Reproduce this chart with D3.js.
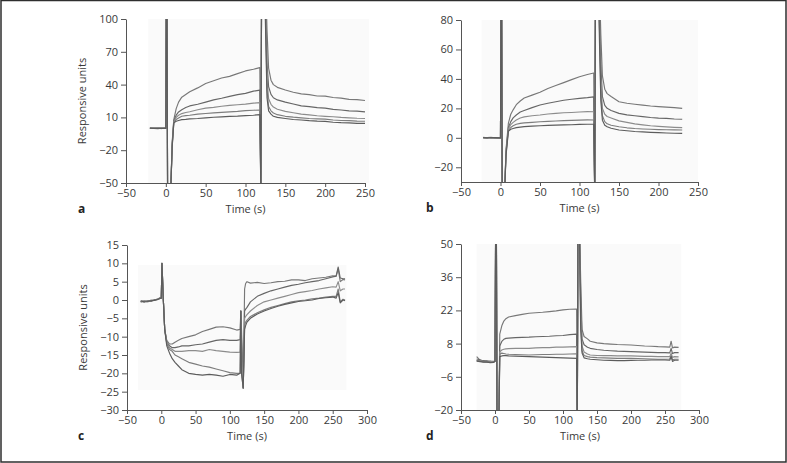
<!DOCTYPE html>
<html>
<head>
<meta charset="utf-8">
<script src="https://cdn.jsdelivr.net/npm/d3@7"></script>
<style>
  html, body { margin: 0; padding: 0; background: #fff; }
  svg { display: block; font-family: "Open Sans", "DejaVu Sans", sans-serif; }
</style>
</head>
<body>
<svg id="chart" width="787" height="463"></svg>
<script>
// ---------------- DATA ----------------
// Panel a
const aTime = [-20,-15,-10,-5,-1, 0,0.6,1.4,2.2,6,8, 10,13,16,20,25,30, 40,50,60,70,80,90,100,110,118, 119.3,120.2,124, 125.5,127,129,132,135,140, 150,160,170,180,190,200,210,220,230,240,250];
const aS1 = [0.3,-0.2,0.4,0,0.2, 0,130,130,-60,-60,-12, 8,18,24,28.5,31,33.5, 37,41,43.5,46,47.5,50,52.5,54,55.5, -60,130,130, 130,90,55,44,40,37.5, 35,33,31.5,30.8,29.6,29.5,28.2,27.6,26.5,26.2,25.5];
const aS2 = [0.1,0.3,-0.1,0.2,0, 0,130,130,-60,-60,-14, 7,12,15,17,19,20.5, 22,24,26,27.5,29.2,30.8,32,34,35, -60,130,130, 120,60,38,31,28,26, 24,22.2,20.5,19.8,19,18.5,17.4,16.8,16,15.7,15];
const aS3 = [0,0.2,0.1,-0.2,0.1, 0,130,130,-60,-60,-15, 6,10,12,13.5,14.5,15.2, 17,18.5,19.2,20.2,21,21.6,22.1,23,23.5, -60,130,130, 100,45,27,22,19.5,17.5, 15.5,14.2,13,12.3,11.5,11,10.6,10,9.6,9.2,9];
const aS4 = [-0.1,0.1,0.2,0,0.3, 0,130,130,-60,-60,-16, 5,8,9.5,11,11.6,12, 13,13.6,14.2,14.6,15.1,15.5,16.2,16.5,16.8, -60,130,130, 90,35,20,16,14,12.5, 11,10.2,9.6,9,8.7,8.4,7.6,7.2,7,6.6,6.5];
const aS5 = [0.2,0,-0.2,0.1,0, 0,130,130,-60,-60,-17, 5,6.5,7.2,8,8.2,8.6, 9,9.6,10.1,10.5,11,11.2,11.6,12,12.5, -60,130,130, 80,28,16,13,11,10, 9,8.1,7.6,7,6.6,6.4,5.6,5.2,5,4.6,4.5];
const aXTicks = [-50,0,50,100,150,200,250];
const aYTicks = [-50,-20,10,40,70,100];

// Panel b
const bTime = [-22,-17,-12,-7,-2, 0,0.6,1.4,2.2,5,7, 10,13,16,20,25,30, 40,50,60,70,80,90,100,110,118, 119.3,120.2,124, 125.5,127,129,132,135,140, 150,160,170,180,190,200,210,220,230];
const bS1 = [0.3,0,0.2,-0.1,0.1, 0,100,100,-40,-40,-8, 10,16,19,22.5,25,27, 29,31,33.5,35.5,37.5,39.5,41.5,43,44, -40,100,100, 100,70,42,33,30,28, 24.5,23.5,22.8,22.2,21.6,21.2,20.8,20.5,20];
const bS2 = [0.1,0.2,0,0.1,0, 0,100,100,-40,-40,-9, 7,11,13.5,15.5,17.5,18.5, 20.5,22.3,23.5,24.5,25.5,26.2,26.8,27.3,27.8, -40,100,100, 90,50,28,22,20,18.5, 16.6,15.6,15,14.4,13.8,13.4,13.2,12.8,12.6];
const bS3 = [0.2,0,0.1,0.2,-0.1, 0,100,100,-40,-40,-10, 6,9,10.5,12.1,13.5,14.2, 15,15.5,16.2,16.6,17,17.2,17.5,17.8,17.7, -40,100,100, 80,38,20,16,14.5,13.5, 11.5,10.5,9.5,8.8,8.2,7.8,7.4,7.1,6.9];
const bS4 = [0,0.1,0.3,0,0.1, 0,100,100,-40,-40,-11, 5,7,8.2,9.2,9.8,10.1, 10.5,10.9,11.2,11.4,11.7,11.8,12,12.2,12.1, -40,100,100, 70,30,15,11,9.5,8.5, 7.5,6.8,6.3,6,5.8,5.6,5.5,5.4,5.3];
const bS5 = [0.1,0,0.2,0.1,0, 0,100,100,-40,-40,-12, 4.5,5.8,6.3,6.9,7.3,7.6, 7.9,8.2,8.4,8.6,8.8,8.9,9.1,9.2,9.2, -40,100,100, 60,25,12,8.5,7.5,6.5, 5.3,4.8,4.3,4,3.7,3.5,3.3,3.1,3];
const bXTicks = [-50,0,50,100,150,200,250];
const bYTicks = [-20,0,20,40,60,80];

// Panel c
const cTime = [-30,-25,-20,-15,-10,-5,-2, 0,1,3,5, 8,12,16,20,25,30, 40,50,60,70,80,90,100,110, 115,116,117,119.5, 121.5,123,125,130, 140,150,160,170,180,190,200,210,220,230,240,250, 255,258,261,265,268];
const cS1 = [-0.5,-0.2,-0.4,-0.1,0,0.3,0.6, 0.5,10,0,-8, -11,-12,-12,-11.5,-11,-10.5, -10,-9.5,-8.6,-8,-7.4,-7.3,-7.6,-8.2, -8,-3,-8,-24, 3,4.5,5,4.6, 4.8,4.5,4.7,5,5.1,5.5,5.5,5.3,5.8,6,6.2,6.6, 6.5,8.5,5,5.6,5.5];
const cS2 = [-0.3,-0.5,-0.2,-0.4,0.1,0.2,0.5, 0.5,10,0,-8, -11.5,-12.5,-13,-13,-12.8,-12.5, -12.5,-12.2,-12,-11.5,-11,-10.8,-11,-11, -10.8,-3,-10.8,-24, -3,-2.5,-2,-0.5, 1,1.8,2.5,3,3.5,4,4.3,4.7,5,5.3,5.8,6.3, 6.5,9,6,5.8,5.8];
const cS3 = [-0.4,-0.3,-0.5,-0.2,-0.1,0.2,0.4, 0.5,10,0,-8, -11.5,-13,-13.5,-14,-14,-14, -13.8,-13.8,-14,-13.5,-13.8,-14,-14.2,-14.3, -14.2,-3,-14.2,-24, -5,-4.5,-4,-3, -1.5,-0.5,0,0.5,1,1.5,2,2.3,2.6,3,3.3,3.6, 3.5,5,2.5,3,3];
const cS4 = [-0.5,-0.4,-0.3,-0.1,0,0.1,0.5, 0.5,10,0,-8, -12,-13.5,-14,-15,-15.5,-16, -17,-17.5,-18,-18.3,-18.8,-19.3,-19.8,-20, -20,-3,-20,-24, -7,-6,-5.5,-4.5, -3.5,-2.7,-2,-1.5,-1,-0.5,-0.2,0,0.3,0.5,0.8,1, 1,3,-0.5,0.2,0];
const cS5 = [-0.2,-0.5,-0.4,-0.2,-0.1,0.2,0.4, 0.5,10,0,-8, -12.5,-14.5,-16,-17,-18,-19, -20,-20.3,-20.5,-20.3,-20.5,-20.8,-20.3,-20.5, -20,-3,-20,-24, -8,-7,-6,-5, -3.8,-3,-2.3,-1.7,-1.2,-0.8,-0.4,-0.2,0,0.4,0.6,0.8, 0.5,2,-0.8,0,-0.2];
const cXTicks = [-50,0,50,100,150,200,250,300];
const cYTicks = [-30,-25,-20,-15,-10,-5,0,5,10,15];

// Panel d
const dTime = [-27,-22,-17,-12,-7,-2, 0,1,2,3,5.5,7, 10,13,16,20,30, 40,50,60,70,80,90,100,110,120, 121,122,124,126,128,131,136, 140,150,160,170,180,190,200,210,220,230,240,250, 257,259,261,264,270];
const dS1 = [2.5,1,0.8,0.5,0.6,0.4, 0.5,60,60,-30,-30,12, 15.5,17.5,18.5,19.2,19.8, 20.3,20.8,21,21.2,21.5,21.8,22.2,22.5,22.6, -30,60,60,35,14,11,10, 9,8.3,8,7.8,7.6,7.5,7.4,7.2,7,6.9,6.7,6.6, 6.5,9,6.2,6.5,6.4];
const dS2 = [1.5,1.2,0.6,0.7,0.3,0.5, 0.5,60,60,-30,-30,7, 8.9,9.8,10.2,10.3,10.5, 10.6,10.7,10.9,11,11.1,11.3,11.4,11.8,12, -30,60,60,28,10,7.5,6.5, 6,5.5,5.2,5,4.8,4.7,4.6,4.5,4.4,4.3,4.2,4.2, 4.1,6,3.8,4.2,4.2];
const dS3 = [1,0.8,0.5,0.3,0.5,0.2, 0.5,60,60,-30,-30,4.5, 5.3,5.6,5.8,5.9,6, 6,6,6.2,6.3,6.3,6.5,6.5,6.6,6.7, -30,60,60,22,7,4.5,3.6, 3.2,3,2.9,2.9,2.8,2.8,2.8,2.7,2.6,2.6,2.5,2.5, 2.5,4,2.2,2.5,2.4];
const dS4 = [0.8,0.6,0.3,0.4,0.2,0.1, 0.5,60,60,-30,-30,3.5, 4,3.8,3.6,3.5,3.4, 3.3,3.2,3.3,3.4,3.4,3.5,3.5,3.6,3.7, -30,60,60,18,5,3,2.5, 2.3,2.1,2,1.9,1.8,1.8,1.8,1.7,1.6,1.5,1.4,1.4, 1.5,3,1.2,1.4,1.4];
const dS5 = [0.6,0.4,0.2,0.2,0,0.1, 0.5,60,60,-30,-30,2.5, 2.8,2.9,2.9,2.8,2.7, 2.6,2.5,2.4,2.3,2.2,2.1,2,1.9,1.8, -30,60,60,14,4,2,1.6, 1.4,1.2,1,0.9,0.8,0.8,0.9,1,1,1.1,1.1,1.1, 1,2.5,0.5,1,1];
const dXTicks = [-50,0,50,100,150,200,250,300];
const dYTicks = [-20,-6,8,22,36,50];

const xLabel = "Time (s)";
const yLabel = "Responsive units";

// ---------------- LAYOUT ----------------
const seriesColors = ["#787878", "#666666", "#8c8c8c", "#7d7d7d", "#5c5c5c"];

const panels = [
  { letter: "a", time: aTime, series: [aS1,aS2,aS3,aS4,aS5], xDom: [-50,250], yDom: [-50,100],
    xTicks: aXTicks, yTicks: aYTicks, x0: 126, x1: 365, y0: 19, y1: 183, showY: true,
    bg: [-22, 255, 100, -50] },
  { letter: "b", time: bTime, series: [bS1,bS2,bS3,bS4,bS5], xDom: [-50,250], yDom: [-30,80],
    xTicks: bXTicks, yTicks: bYTicks, x0: 461, x1: 698, y0: 20, y1: 182, showY: false,
    bg: [-24, 250, 80, -30] },
  { letter: "c", time: cTime, series: [cS1,cS2,cS3,cS4,cS5], xDom: [-50,300], yDom: [-30,15],
    xTicks: cXTicks, yTicks: cYTicks, x0: 127, x1: 367, y0: 245, y1: 410, showY: true,
    bg: [-34, 270, 9.5, -24.5] },
  { letter: "d", time: dTime, series: [dS1,dS2,dS3,dS4,dS5], xDom: [-50,300], yDom: [-20,50],
    xTicks: dXTicks, yTicks: dYTicks, x0: 461, x1: 699, y0: 244, y1: 410, showY: false,
    bg: [-27, 274, 50, -20] }
];

const svg = d3.select("#chart");

// outer frame
svg.append("rect").attr("x", 1).attr("y", 0.5).attr("width", 785).attr("height", 461.5)
  .attr("fill", "none").attr("stroke", "#2e2e2e").attr("stroke-width", 1.5);

panels.forEach((p, i) => {
  const x = d3.scaleLinear().domain(p.xDom).range([p.x0, p.x1]);
  const y = d3.scaleLinear().domain(p.yDom).range([p.y1, p.y0]);
  const g = svg.append("g");

  // faint plot background
  g.append("rect")
    .attr("x", x(p.bg[0])).attr("y", y(p.bg[2]))
    .attr("width", x(p.bg[1]) - x(p.bg[0])).attr("height", y(p.bg[3]) - y(p.bg[2]))
    .attr("fill", "#fafafa");

  const clipId = "clip" + i;
  svg.append("clipPath").attr("id", clipId).append("rect")
    .attr("x", p.x0).attr("y", p.y0).attr("width", p.x1 - p.x0 + 5).attr("height", p.y1 - p.y0);

  const line = d3.line().x((d, k) => x(p.time[k])).y(d => y(d));
  const lg = g.append("g").attr("clip-path", `url(#${clipId})`);
  p.series.forEach((s, k) => {
    lg.append("path").datum(s).attr("d", line)
      .attr("fill", "none").attr("stroke", seriesColors[k])
      .attr("stroke-width", 1.15).attr("stroke-linejoin", "round");
  });

  // axes
  const xAxis = d3.axisBottom(x).tickValues(p.xTicks).tickSize(4).tickPadding(2)
    .tickSizeOuter(0).tickFormat(d => d < 0 ? "\u2212" + Math.abs(d) : d);
  const yAxis = d3.axisLeft(y).tickValues(p.yTicks).tickSize(5).tickPadding(3)
    .tickSizeOuter(0).tickFormat(d => d < 0 ? "\u2212" + Math.abs(d) : d);

  const gx = g.append("g").attr("transform", `translate(0,${p.y1})`).call(xAxis);
  const gy = g.append("g").attr("transform", `translate(${p.x0},0)`).call(yAxis);
  [gx, gy].forEach(ax => {
    ax.selectAll("path.domain").attr("stroke", "#555").attr("stroke-width", 1);
    ax.selectAll(".tick line").attr("stroke", "#555");
    ax.selectAll(".tick text").attr("fill", "#3a3a3a")
      .style("font-size", "11px").style("font-family", '"Open Sans", sans-serif');
  });

  g.append("text").attr("x", (p.x0 + p.x1) / 2).attr("y", p.y1 + 30)
    .attr("text-anchor", "middle").attr("fill", "#3a3a3a").style("font-size", "11px")
    .text(xLabel);

  if (p.showY) {
    g.append("text")
      .attr("transform", `translate(${p.x0 - 40},${(p.y0 + p.y1) / 2}) rotate(-90)`)
      .attr("text-anchor", "middle").attr("fill", "#3a3a3a").style("font-size", "11px")
      .text(yLabel);
  }

  g.append("text").attr("x", i % 2 === 0 ? 78 : 426).attr("y", p.y1 + 30)
    .attr("fill", "#222").style("font-size", "12px").style("font-weight", "bold")
    .text(p.letter);
});
</script>
</body>
</html>
